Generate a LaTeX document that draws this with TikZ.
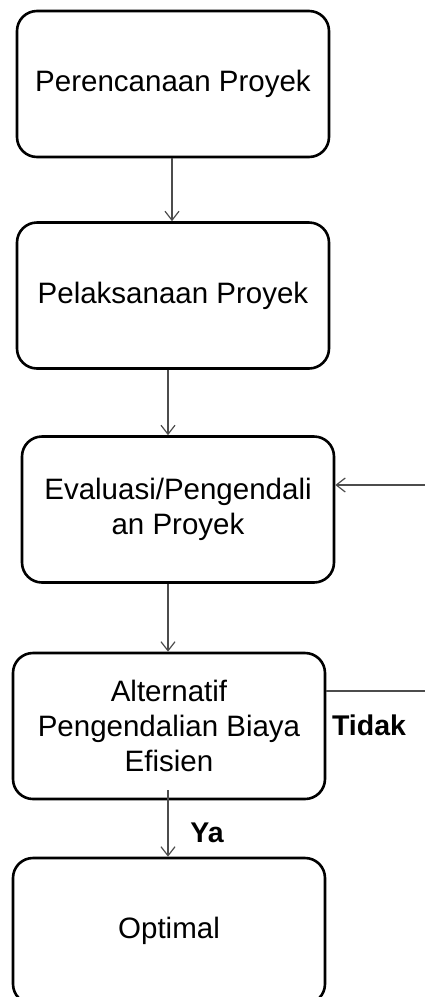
\documentclass[tikz,border=0pt]{standalone}
\usepackage{fontspec}
\setmainfont{Liberation Sans}
\usetikzlibrary{arrows.meta}
\begin{document}
\begin{tikzpicture}[x=1pt,y=-1pt,
  flowbox/.style={draw=black, line width=2.6pt, rounded corners=20pt,
    minimum width=312pt, minimum height=146pt, align=center,
    font=\fontsize{29.5}{35}\selectfont, inner sep=0pt},
  link/.style={draw=black!70, line width=1.4pt,
    -{Straight Barb[length=9pt,width=14pt,line width=1.2pt]}},
  tag/.style={font=\bfseries\fontsize{28.5}{32}\selectfont, inner sep=0pt}]
\clip (0,0) rectangle (425,997);
\fill[white] (0,0) rectangle (425,997);

\node[flowbox] (b1) at (173,84) {Perencanaan Proyek};
\node[flowbox] (b2) at (173,295.5) {Pelaksanaan Proyek};
\node[flowbox] (b3) at (178,509.5) {Evaluasi/Pengendali\\an Proyek};
\node[flowbox] (b4) at (169,726) {Alternatif\\Pengendalian Biaya\\Efisien};
\node[flowbox] (b5) at (169,931) {Optimal};

\coordinate (x1) at (172,0);
\coordinate (x2) at (168,0);
\coordinate (t1) at (432,691);
\coordinate (t2) at (432,485);

\draw[link] (b1.south -| x1) -- (b2.north -| x1);
\draw[link] (b2.south -| x2) -- (b3.north -| x2);
\draw[link] (b3.south -| x2) -- (b4.north -| x2);
\draw[link] ([yshift=10pt]b4.south -| x2) -- (b5.north -| x2);
\draw[link] (b4.east |- t1) -- (t1) -- (t2) -- (b3.east |- t2);

\node[tag] (no) at (369,725) {Tidak};
\node[tag] (yes) at (207,833) {Ya};
\end{tikzpicture}
\end{document}
